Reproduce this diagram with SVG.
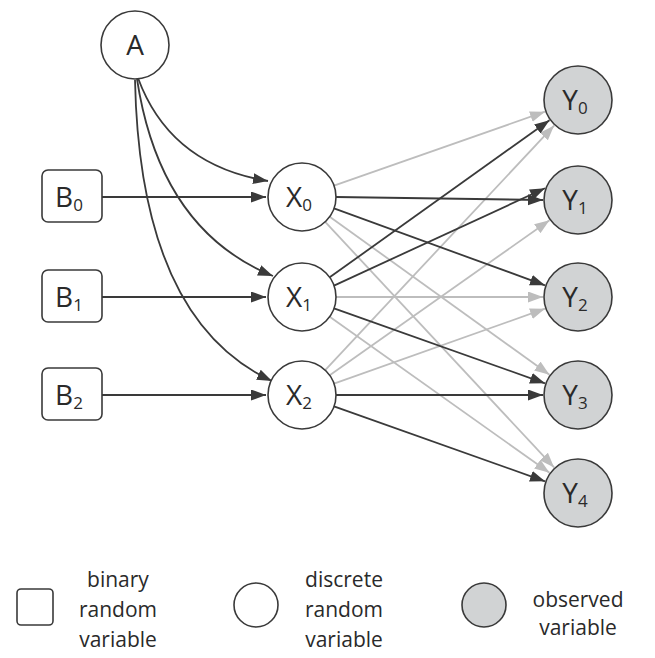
<svg xmlns="http://www.w3.org/2000/svg" width="655" height="658" viewBox="0 0 655 658">
<defs>
<marker id="md" markerUnits="userSpaceOnUse" markerWidth="16" markerHeight="12" refX="15" refY="5.5" orient="auto"><path d="M0,0 L15,5.5 L0,11 z" fill="#3a3a3a"/></marker>
<marker id="ml" markerUnits="userSpaceOnUse" markerWidth="16" markerHeight="12" refX="15" refY="5.5" orient="auto"><path d="M0,0 L15,5.5 L0,11 z" fill="#bdbdbd"/></marker>
</defs>
<style>
.n{fill:#fff;stroke:#3a3a3a;stroke-width:1.6}
.o{fill:#d1d3d4;stroke:#3a3a3a;stroke-width:1.6}
.d{stroke:#3a3a3a;stroke-width:1.8;fill:none;marker-end:url(#md)}
.l{stroke:#bdbdbd;stroke-width:1.8;fill:none;marker-end:url(#ml)}
text{font-family:"Open Sans","Liberation Sans",sans-serif;fill:#2a2a2a}
.t{font-size:28px;text-anchor:middle}
.s{font-size:17px}
.g{font-size:21px;text-anchor:middle}
</style>
<g id="connectors">
<path class="d" d="M138,78 Q170,165 268,181"/>
<path class="d" d="M137,79 Q160,230 273,276"/>
<path class="d" d="M135,80 Q140,320 272,381"/>
<line class="d" x1="102" y1="197" x2="266" y2="197"/>
<line class="d" x1="102" y1="297" x2="266" y2="297"/>
<line class="d" x1="102" y1="395" x2="266" y2="395"/>
<line class="l" x1="334" y1="185.6" x2="545" y2="111.7"/>
<line class="l" x1="329.7" y1="216.7" x2="549.5" y2="374.8"/>
<line class="l" x1="325.2" y1="221.9" x2="554.1" y2="467.4"/>
<line class="l" x1="336" y1="297" x2="543" y2="297"/>
<line class="l" x1="329.7" y1="316.7" x2="549.5" y2="472.8"/>
<line class="l" x1="325.2" y1="370.1" x2="554.1" y2="125.6"/>
<line class="l" x1="329.7" y1="375.3" x2="549.5" y2="220.2"/>
<line class="l" x1="334" y1="383.6" x2="545" y2="308.7"/>
<line class="d" x1="336" y1="197" x2="543" y2="200"/>
<line class="d" x1="334" y1="208.4" x2="545" y2="285.3"/>
<line class="d" x1="329.7" y1="277.3" x2="549.5" y2="120.2"/>
<line class="d" x1="334" y1="285.6" x2="545" y2="188.3"/>
<line class="d" x1="334" y1="308.4" x2="545" y2="383.3"/>
<line class="d" x1="336" y1="395" x2="543" y2="395"/>
<line class="d" x1="334" y1="406.4" x2="545" y2="481.3"/>
</g>
<g id="A"><circle class="n" cx="135" cy="45" r="34"/><text class="t" x="135" y="55">A</text></g>
<g id="B0"><rect class="n" x="42" y="170" width="60" height="52" rx="6"/><text class="t" x="69" y="207">B<tspan class="s" dy="4">0</tspan></text></g>
<g id="B1"><rect class="n" x="42" y="270" width="60" height="52" rx="6"/><text class="t" x="69" y="307">B<tspan class="s" dy="4">1</tspan></text></g>
<g id="B2"><rect class="n" x="42" y="368" width="60" height="52" rx="6"/><text class="t" x="69" y="405">B<tspan class="s" dy="4">2</tspan></text></g>
<g id="X0"><circle class="n" cx="302" cy="197" r="34"/><text class="t" x="299" y="207">X<tspan class="s" dy="4">0</tspan></text></g>
<g id="X1"><circle class="n" cx="302" cy="297" r="34"/><text class="t" x="299" y="307">X<tspan class="s" dy="4">1</tspan></text></g>
<g id="X2"><circle class="n" cx="302" cy="395" r="34"/><text class="t" x="299" y="405">X<tspan class="s" dy="4">2</tspan></text></g>
<g id="Y0"><circle class="o" cx="578" cy="100" r="34"/><text class="t" x="575" y="110">Y<tspan class="s" dy="4">0</tspan></text></g>
<g id="Y1"><circle class="o" cx="578" cy="200" r="34"/><text class="t" x="575" y="210">Y<tspan class="s" dy="4">1</tspan></text></g>
<g id="Y2"><circle class="o" cx="578" cy="297" r="34"/><text class="t" x="575" y="307">Y<tspan class="s" dy="4">2</tspan></text></g>
<g id="Y3"><circle class="o" cx="578" cy="395" r="34"/><text class="t" x="575" y="405">Y<tspan class="s" dy="4">3</tspan></text></g>
<g id="Y4"><circle class="o" cx="578" cy="493" r="34"/><text class="t" x="575" y="503">Y<tspan class="s" dy="4">4</tspan></text></g>
<g id="legend">
<rect class="n" x="17" y="589" width="36" height="36" rx="4"/>
<text class="g" x="118" y="587">binary</text><text class="g" x="118" y="617">random</text><text class="g" x="118" y="647">variable</text>
<circle class="n" cx="256" cy="605" r="22"/>
<text class="g" x="344" y="587">discrete</text><text class="g" x="344" y="617">random</text><text class="g" x="344" y="647">variable</text>
<circle class="o" cx="484" cy="605" r="22"/>
<text class="g" x="578" y="607">observed</text><text class="g" x="578" y="635">variable</text>
</g>
</svg>
